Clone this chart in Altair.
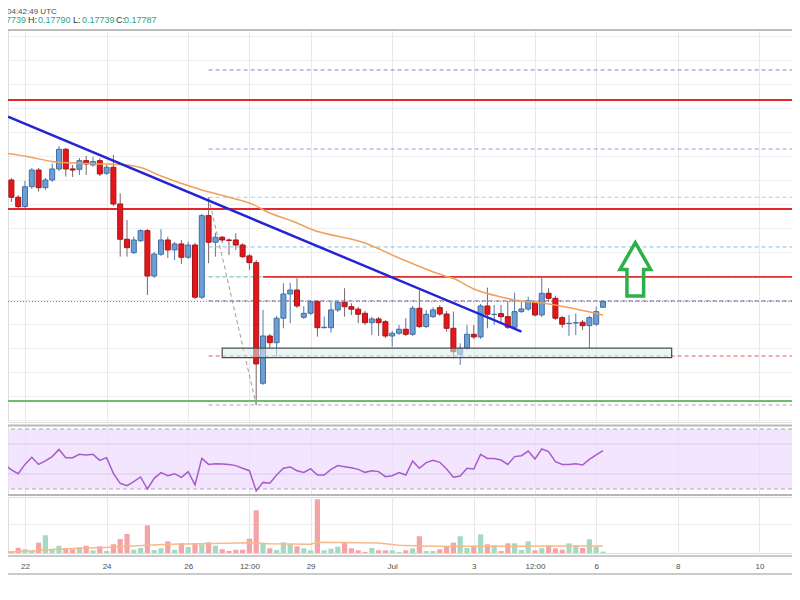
import altair as alt
import pandas as pd

# ---------------- data (4h candles) ----------------
first_candle = "2020-06-21 08:00"
opens = [0.18773, 0.18703, 0.18800, 0.18656, 0.18578, 0.18744, 0.18883, 0.18736, 0.18800, 0.18892,
         0.19056, 0.18892, 0.18889, 0.18961, 0.18925, 0.18961, 0.18856, 0.18906, 0.18600, 0.18306,
         0.18194, 0.18294, 0.18378, 0.18000, 0.18181, 0.18300, 0.18217, 0.18267, 0.18156, 0.18258,
         0.17823, 0.18503, 0.18281, 0.18323, 0.18300, 0.18300, 0.18258, 0.18167, 0.18111, 0.17106,
         0.17500, 0.17444, 0.17648, 0.17850, 0.17883, 0.17656, 0.17689, 0.17786, 0.17569, 0.17569,
         0.17717, 0.17781, 0.17744, 0.17723, 0.17689, 0.17611, 0.17642, 0.17619, 0.17500, 0.17523,
         0.17556, 0.17514, 0.17731, 0.17578, 0.17661, 0.17736, 0.17683, 0.17564, 0.17348, 0.17398,
         0.17514, 0.17492, 0.17750, 0.17678, 0.17686, 0.17661, 0.17573, 0.17703, 0.17725, 0.17778,
         0.17675, 0.17856, 0.17814, 0.17653, 0.17603, 0.17608, 0.17614, 0.17586, 0.17598, 0.17739]
highs = [0.18792, 0.18817, 0.18817, 0.18675, 0.18794, 0.18900, 0.18900, 0.18817, 0.18939, 0.19083,
         0.19067, 0.18925, 0.18983, 0.19000, 0.18994, 0.18981, 0.18925, 0.19008, 0.18689, 0.18467,
         0.18328, 0.18389, 0.18392, 0.18200, 0.18389, 0.18328, 0.18283, 0.18300, 0.18286, 0.18275,
         0.18517, 0.18656, 0.18361, 0.18333, 0.18314, 0.18356, 0.18273, 0.18183, 0.18133, 0.17717,
         0.17517, 0.17667, 0.17939, 0.17944, 0.17981, 0.17750, 0.17800, 0.17800, 0.17661, 0.17786,
         0.17794, 0.17898, 0.17773, 0.17742, 0.17708, 0.17661, 0.17658, 0.17633, 0.17542, 0.17592,
         0.17648, 0.17750, 0.17878, 0.17717, 0.17739, 0.17758, 0.17708, 0.17703, 0.17439, 0.17592,
         0.17592, 0.17767, 0.17903, 0.17758, 0.17758, 0.17792, 0.17861, 0.17786, 0.17828, 0.17794,
         0.17994, 0.17898, 0.17836, 0.17667, 0.17675, 0.17689, 0.17633, 0.17667, 0.17744, 0.17790]
lows = [0.18683, 0.18692, 0.18617, 0.18567, 0.18567, 0.18725, 0.18703, 0.18717, 0.18783, 0.18875,
        0.18828, 0.18825, 0.18842, 0.18842, 0.18911, 0.18833, 0.18842, 0.18583, 0.18161, 0.18161,
        0.18183, 0.18283, 0.17842, 0.17983, 0.18167, 0.18150, 0.18133, 0.18100, 0.18142, 0.17808,
        0.17808, 0.18106, 0.18161, 0.18273, 0.18175, 0.18217, 0.18150, 0.18050, 0.16925, 0.17092,
        0.17398, 0.17328, 0.17564, 0.17606, 0.17733, 0.17642, 0.17675, 0.17494, 0.17564, 0.17528,
        0.17700, 0.17661, 0.17675, 0.17606, 0.17592, 0.17508, 0.17500, 0.17483, 0.17411, 0.17508,
        0.17500, 0.17500, 0.17567, 0.17567, 0.17650, 0.17667, 0.17536, 0.17314, 0.17258, 0.17383,
        0.17475, 0.17475, 0.17564, 0.17592, 0.17617, 0.17558, 0.17558, 0.17692, 0.17708, 0.17661,
        0.17658, 0.17786, 0.17633, 0.17569, 0.17500, 0.17508, 0.17550, 0.17398, 0.17583, 0.17739]
closes = [0.18703, 0.18800, 0.18656, 0.18578, 0.18744, 0.18883, 0.18736, 0.18800, 0.18892, 0.19056,
          0.18892, 0.18883, 0.18961, 0.18933, 0.18953, 0.18850, 0.18906, 0.18600, 0.18306, 0.18236,
          0.18300, 0.18378, 0.18000, 0.18183, 0.18300, 0.18217, 0.18267, 0.18156, 0.18258, 0.17823,
          0.18503, 0.18281, 0.18323, 0.18300, 0.18296, 0.18258, 0.18161, 0.18111, 0.17267, 0.17500,
          0.17444, 0.17648, 0.17850, 0.17883, 0.17750, 0.17689, 0.17786, 0.17569, 0.17573, 0.17717,
          0.17781, 0.17744, 0.17723, 0.17681, 0.17611, 0.17642, 0.17611, 0.17500, 0.17523, 0.17556,
          0.17514, 0.17731, 0.17578, 0.17681, 0.17717, 0.17683, 0.17564, 0.17369, 0.17398, 0.17514,
          0.17492, 0.17750, 0.17681, 0.17681, 0.17661, 0.17573, 0.17703, 0.17725, 0.17792, 0.17675,
          0.17856, 0.17814, 0.17648, 0.17598, 0.17606, 0.17611, 0.17586, 0.17653, 0.17703, 0.17787]
volumes = [0.21, 0.28, 0.10, 0.55, 0.39, 0.28, 1.08, 1.85, 0.45, 0.76,
           0.52, 0.39, 0.60, 0.76, 0.28, 0.70, 0.21, 0.91, 1.46, 1.99,
           0.34, 0.52, 2.89, 0.31, 0.49, 1.22, 0.34, 1.01, 0.63, 1.01,
           0.91, 1.12, 0.76, 0.39, 0.21, 0.34, 0.34, 1.49, 4.46, 0.97,
           0.49, 0.31, 1.12, 0.91, 0.70, 0.49, 0.28, 5.61, 0.28, 0.45,
           0.66, 1.04, 0.49, 0.28, 0.10, 0.52, 0.28, 0.28, 0.28, 0.10,
           0.28, 0.49, 1.75, 0.21, 0.21, 0.39, 0.70, 1.08, 1.75, 0.52,
           0.76, 1.95, 0.91, 0.80, 0.21, 1.01, 1.01, 0.31, 1.22, 0.28,
           0.49, 0.80, 0.49, 0.34, 1.01, 0.80, 0.52, 1.43, 0.63, 0.14]
rsi_values = [44.9, 46.4, 42.7, 40.2, 46.4, 51.1, 46.4, 48.7, 51.6, 56.4,
              50.9, 50.9, 53.1, 52.7, 53.1, 49.1, 50.9, 40.4, 33.8, 32.2,
              34.9, 38.0, 30.0, 37.1, 40.9, 38.9, 40.2, 37.8, 41.6, 32.7,
              50.4, 46.4, 46.9, 46.7, 46.4, 45.6, 43.8, 42.2, 28.7, 34.4,
              33.8, 39.3, 43.8, 44.7, 42.2, 41.0, 43.5, 39.3, 39.3, 43.1,
              45.6, 44.9, 44.2, 43.1, 41.1, 42.2, 41.6, 38.2, 38.9, 40.9,
              39.3, 48.7, 43.8, 47.6, 49.1, 47.8, 43.3, 37.8, 38.7, 43.8,
              43.3, 53.1, 50.4, 50.4, 49.3, 46.4, 51.6, 52.2, 55.3, 50.0,
              56.7, 54.9, 48.2, 46.4, 46.4, 46.9, 46.0, 49.8, 52.7, 55.6]

# moving average of price (read at these candles)
ma_index = [0, 5, 8, 12, 16, 19, 21, 24, 30, 35, 37, 40, 44, 46, 54, 59, 66, 67, 70, 74, 76, 81, 86, 89]
ma_price = [0.19033, 0.18988, 0.18954, 0.18939, 0.18933, 0.18925, 0.18904, 0.18833, 0.18717, 0.18642,
            0.18608, 0.18525, 0.18442, 0.18392, 0.18275, 0.18150, 0.17996, 0.17979, 0.17892, 0.17825,
            0.17800, 0.17767, 0.17713, 0.17675]
# moving average of volume
vol_ma_index = [0, 5, 10, 15, 22, 25, 30, 37, 40, 46, 47, 56, 59, 62, 64, 74, 84, 89]
vol_ma_value = [0.05, 0.21, 0.45, 0.55, 0.80, 0.91, 0.97, 1.08, 0.97, 0.91, 1.12, 1.04, 0.80, 0.73,
                0.70, 0.70, 0.73, 0.73]

# drawings
x_start = "2020-06-21T14:00:00Z"
x_end = "2020-07-10T19:11:00Z"
solid_level_price = [0.19467, 0.18558, 0.16958]
solid_level_color = ["#e3262b", "#e3262b", "#6cbd70"]
fib_start = "2020-06-26T12:00:00Z"
fib_price = [0.19717, 0.19058, 0.18656, 0.18242, 0.17992, 0.17792, 0.17333, 0.16925]
fib_color = ["#7f7fd8", "#b98ae0", "#9fd3e6", "#7cc3e3", "#62c9a4", "#86669a", "#e05858", "#a8a8a8"]
resist_start = "2020-06-27T20:00:00Z"
resist_price = 0.17992
last_price = 0.17787
trend_t = ["2020-06-21T14:00:00Z", "2020-07-04T04:00:00Z"]
trend_p = [0.19328, 0.17537]
swing_t = ["2020-06-26T12:00:00Z", "2020-06-27T16:00:00Z"]
swing_p = [0.18656, 0.16925]
zone_t = ["2020-06-26T20:00:00Z", "2020-07-07T20:24:00Z"]
zone_p = [0.17398, 0.17320]
arrow_t = ["2020-07-06T23:00:00Z"]
arrow_p = [0.18055]

header_time = "04:42:49 UTC"
header_parts = ["O:0.17739", "H:", "0.17790", "L:", "0.17739", "C:", "0.17787"]
header_is_value = [True, False, True, False, True, False, True]

price_grid = [0.168, 0.170, 0.172, 0.174, 0.176, 0.178, 0.180, 0.182, 0.184, 0.186,
              0.188, 0.190, 0.192, 0.194, 0.196, 0.198, 0.200]
rsi_bands = [30, 70]
rsi_mid = [40, 60]
tick_dates = [(6, 22, 0), (6, 24, 0), (6, 26, 0), (6, 27, 12), (6, 29, 0), (7, 1, 0),
              (7, 3, 0), (7, 4, 12), (7, 6, 0), (7, 8, 0), (7, 10, 0)]

# ---------------- tables ----------------
times = list(pd.date_range(first_candle, periods=len(opens), freq="4h").strftime("%Y-%m-%dT%H:%M:%SZ"))
candles = pd.DataFrame({"t": times, "open": opens, "high": highs, "low": lows,
                        "close": closes, "vol": volumes, "rsi": rsi_values})
candles["dir"] = ["up" if c >= o else "down" for o, c in zip(opens, closes)]
ma_df = pd.DataFrame({"t": [times[i] for i in ma_index], "p": ma_price})
vma_df = pd.DataFrame({"t": [times[i] for i in vol_ma_index], "v": vol_ma_value})

W = 784
H_MAIN, H_RSI, H_VOL = 392, 69, 56
FONT = "Liberation Sans"

def dt(s):
    ts = pd.Timestamp(s)
    return alt.DateTime(year=ts.year, month=ts.month, date=ts.day, hours=ts.hour,
                        minutes=ts.minute, utc=True)

xscale = alt.Scale(type="utc", domain=[dt(x_start), dt(x_end)], nice=False, padding=0)
tick_values = [alt.DateTime(year=2020, month=m, date=d, hours=h, utc=True) for m, d, h in tick_dates]
label_expr = ("utchours(datum.value) == 12 ? '12:00' : (utcdate(datum.value) == 1 ? "
              "utcFormat(datum.value, '%b') : utcFormat(datum.value, '%-d'))")

def xaxis(labels=False):
    return alt.Axis(values=tick_values, grid=True, gridColor="#e8e8e8", gridWidth=1,
                    labels=labels, ticks=False, domain=False, title=None,
                    labelExpr=label_expr, labelFont=FONT, labelFontSize=8,
                    labelColor="#4d4d4d", labelPadding=9, labelOverlap=False, labelFlush=False)

def X(field="t", labels=False):
    return alt.X(f"{field}:T", scale=xscale, axis=xaxis(labels))

pscale = alt.Scale(domain=[0.16783, 0.2005], nice=False, zero=False)
paxis = alt.Axis(values=price_grid, grid=True, gridColor="#efefef", labels=False,
                 ticks=False, domain=False, title=None)

def PY(field):
    return alt.Y(f"{field}:Q", scale=pscale, axis=paxis)

dir_scale = dict(domain=["up", "down"])

# ---------------- main pane ----------------
wicks = alt.Chart(candles).mark_rule(strokeWidth=1, clip=True).encode(
    x=X(), y=PY("low"), y2="high:Q",
    color=alt.Color("dir:N", scale=alt.Scale(range=["#4f7cb0", "#7a6666"], **dir_scale), legend=None))
bodies = alt.Chart(candles).mark_bar(size=5, strokeWidth=1, clip=True).encode(
    x=X(), y=PY("open"), y2="close:Q",
    fill=alt.Fill("dir:N", scale=alt.Scale(range=["#6c9dd5", "#e2171c"], **dir_scale), legend=None),
    stroke=alt.Stroke("dir:N", scale=alt.Scale(range=["#43709f", "#a51418"], **dir_scale), legend=None))

levels = pd.DataFrame({"p": solid_level_price, "c": solid_level_color})
solid_lines = alt.Chart(levels).mark_rule(strokeWidth=2).encode(
    y=PY("p"), color=alt.Color("c:N", scale=None))

fib_df = pd.DataFrame({"t0": fib_start, "t1": x_end, "p": fib_price, "c": fib_color})
fib_lines = alt.Chart(fib_df).mark_rule(strokeWidth=1, strokeDash=[4, 3]).encode(
    x=X("t0"), x2="t1:T", y=PY("p"), color=alt.Color("c:N", scale=None))

resist = alt.Chart(pd.DataFrame({"t0": [resist_start], "t1": [x_end], "p": [resist_price]})).mark_rule(
    strokeWidth=1.8, color="#e0322f").encode(x=X("t0"), x2="t1:T", y=PY("p"))

price_line = alt.Chart(pd.DataFrame({"p": [last_price]})).mark_rule(
    strokeWidth=1, color="#5b8fd6", strokeDash=[1, 2]).encode(y=PY("p"))

swing = alt.Chart(pd.DataFrame({"t": swing_t, "p": swing_p})).mark_line(
    strokeWidth=1, color="#9c9c9c", strokeDash=[4, 3]).encode(x=X(), y=PY("p"))

ma_line = alt.Chart(ma_df).mark_line(color="#f0a05a", strokeWidth=1.5, clip=True,
                                     interpolate="monotone").encode(x=X(), y=PY("p"))

trend = alt.Chart(pd.DataFrame({"t": trend_t, "p": trend_p})).mark_line(
    color="#2525d2", strokeWidth=2.5).encode(x=X(), y=PY("p"))

zone = alt.Chart(pd.DataFrame({"t0": [zone_t[0]], "t1": [zone_t[1]], "p0": [zone_p[0]], "p1": [zone_p[1]]})).mark_rect(
    fill="#d9efed", fillOpacity=0.55, stroke="#4d4d4d", strokeWidth=1.2).encode(
    x=X("t0"), x2="t1:T", y=PY("p0"), y2="p1:Q")

arrow_path = "M0,-1L0.576,0L0.313,0L0.313,1L-0.313,1L-0.313,0L-0.576,0Z"
arrow = alt.Chart(pd.DataFrame({"t": arrow_t, "p": arrow_p})).mark_point(
    shape=arrow_path, size=2841, filled=False, stroke="#2db04b", strokeWidth=3.5, opacity=1).encode(
    x=X(), y=PY("p"))

top_border = alt.Chart(pd.DataFrame({"a": [0]})).mark_rule(color="#bdbdbd", strokeWidth=2).encode(
    x=alt.value(0), x2=alt.value(W), y=alt.value(0))

head1 = alt.Chart(pd.DataFrame({"s": [header_time]})).mark_text(
    align="left", baseline="top", font=FONT, fontSize=8, color="#4d4d4d").encode(
    text="s:N", x=alt.value(-1), y=alt.value(-22))

part_x = [18, 20, 30, 65, 74, 108, 116]
head2_layers = []
for s, is_val, px in zip(header_parts, header_is_value, part_x):
    head2_layers.append(alt.Chart(pd.DataFrame({"s": [s]})).mark_text(
        align="right" if s.startswith("O:") else "left", baseline="top", font=FONT, fontSize=9,
        color="#2fa38a" if is_val else "#333333").encode(
        text="s:N", x=alt.value(px), y=alt.value(-14)))

main = alt.layer(wicks, fib_lines, solid_lines, resist, price_line, swing, bodies, zone,
                 ma_line, trend, arrow, top_border, head1, *head2_layers).properties(
    width=W, height=H_MAIN)

# ---------------- RSI pane ----------------
rscale = alt.Scale(domain=[26.667, 72.667], nice=False, zero=False)
rsi_line = alt.Chart(candles).mark_line(color="#a65ccb", strokeWidth=1.5, clip=True).encode(
    x=X(), y=alt.Y("rsi:Q", scale=rscale, axis=None))
band = alt.Chart(pd.DataFrame({"lo": [rsi_bands[0]], "hi": [rsi_bands[1]]})).mark_rect(
    fill="#efdcfc", opacity=0.75).encode(
    y=alt.Y("lo:Q", scale=rscale, axis=None), y2="hi:Q")
band_lines = alt.Chart(pd.DataFrame({"v": rsi_bands})).mark_rule(
    color="#aaaaaa", strokeDash=[4, 3], strokeWidth=1).encode(y=alt.Y("v:Q", scale=rscale, axis=None))
mid_lines = alt.Chart(pd.DataFrame({"v": rsi_mid})).mark_rule(
    color="#dccbe8", strokeWidth=1).encode(y=alt.Y("v:Q", scale=rscale, axis=None))
rsi_borders = alt.Chart(pd.DataFrame({"y": [0.5, 70]})).mark_rule(color="#b8b8b8", strokeWidth=2).encode(
    x=alt.value(0), x2=alt.value(W), y=alt.Y("y:Q", scale=None))
rsi_chart = alt.layer(band, mid_lines, band_lines, rsi_line, rsi_borders).properties(
    width=W, height=H_RSI)

# ---------------- volume pane ----------------
vscale = alt.Scale(domain=[0, 5.85], nice=False)
vaxis = alt.Axis(values=[3], grid=True, gridColor="#ececec", labels=False, ticks=False,
                 domain=False, title=None)
vol_bars = alt.Chart(candles).mark_bar(size=5.2, clip=True).encode(
    x=X(labels=True), y=alt.Y("vol:Q", scale=vscale, axis=vaxis),
    color=alt.Color("dir:N", scale=alt.Scale(range=["#a3dbc2", "#f4a3a7"], **dir_scale), legend=None))
vol_ma = alt.Chart(vma_df).mark_line(color="#f8b989", strokeWidth=1.5, clip=True).encode(
    x=X(labels=True), y=alt.Y("v:Q", scale=vscale, axis=vaxis))
vol_borders = alt.Chart(pd.DataFrame({"y": [59, 77]})).mark_rule(color="#b8b8b8", strokeWidth=1.5).encode(
    x=alt.value(0), x2=alt.value(W), y=alt.Y("y:Q", scale=None))
vol_chart = alt.layer(vol_bars, vol_ma, vol_borders).properties(width=W, height=H_VOL)

chart = alt.vconcat(main, rsi_chart, vol_chart, spacing=3, bounds="flush").resolve_scale(
    color="independent", fill="independent", stroke="independent"
).properties(
    autosize=alt.AutoSizeParams(type="none"),
    padding={"left": 0, "top": 22, "right": 0, "bottom": 562},
).configure_view(stroke=None).configure(background="white")

chart.save("out.html", embed_options={"renderer": "svg", "actions": False})
